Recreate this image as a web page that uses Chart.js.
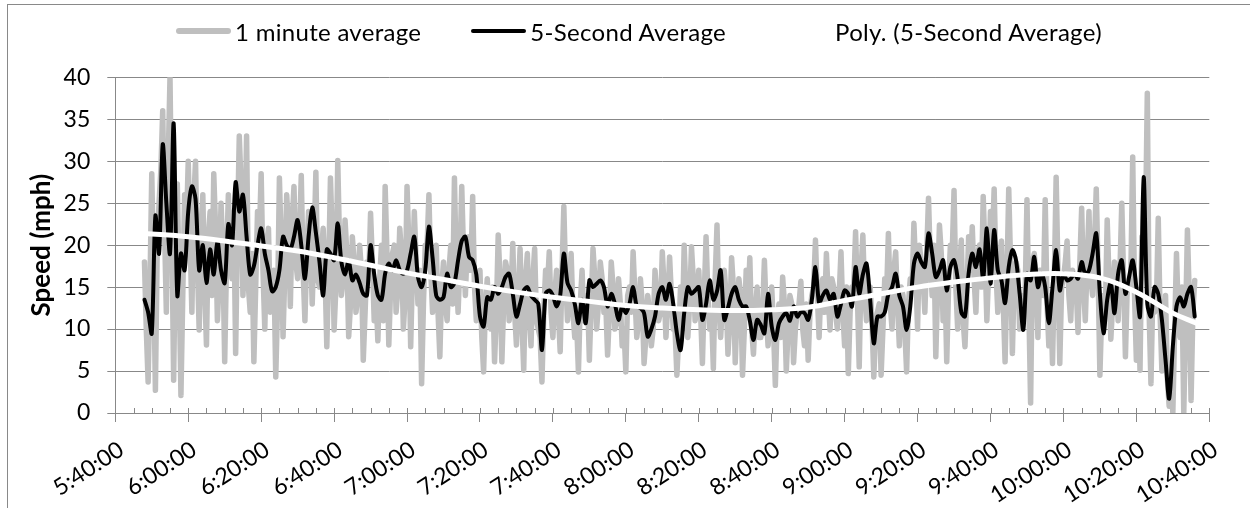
<!DOCTYPE html>
<html>
<head>
<meta charset="utf-8">
<title>Speed</title>
<script src="https://cdn.jsdelivr.net/npm/chart.js@4.4.1/dist/chart.umd.min.js"></script>
<style>
  html, body { margin: 0; padding: 0; background: #fff; overflow: hidden; }
  #wrap { position: relative; width: 1250px; height: 508px; overflow: hidden; }
  #frame { position: absolute; left: 7px; top: 4px; width: 1400px; height: 700px; border: 1px solid #898989; }
  #speedChart { position: absolute; left: 0; top: 0; }
  #legend { position: absolute; left: 176px; top: 17px; height: 28px; display: flex; align-items: center;
            font: 24px Lato, sans-serif; letter-spacing: 0.3px; color: #000; white-space: nowrap; }
  #legend .item { display: flex; align-items: center; margin-right: 50px; }
  #legend .swatch { width: 55px; margin-right: 4px; border-radius: 3px; }
</style>
</head>
<body>
<div id="wrap">
  <div id="frame"></div>
  <canvas id="speedChart" width="1250" height="508"></canvas>
  <div id="legend"></div>
</div>
<script>
// minutes after midnight; both series start at 5:48
const seriesStart = 348;

const timeTicks = ['5:40:00', '6:00:00', '6:20:00', '6:40:00', '7:00:00', '7:20:00', '7:40:00', '8:00:00',
  '8:20:00', '8:40:00', '9:00:00', '9:20:00', '9:40:00', '10:00:00', '10:20:00', '10:40:00'];

// grey series, readings on each whole minute
const oneMinuteAvg = [
  18, 3.7, 28.5, 2.7, 25, 36, 12, 40, 3.9, 27.3,
  2.1, 26, 30, 12, 30, 9.9, 26, 8.1, 24, 28.5,
  11, 25, 6.1, 26, 16, 7.1, 33, 14, 33, 12,
  6.1, 24, 28.5, 10, 22, 13, 4.3, 28, 9.1, 26,
  12.7, 27, 16, 28.3, 11, 24, 13, 28.7, 15, 22,
  7.9, 28, 9.9, 30.1, 14, 23, 9.1, 21, 12, 20,
  6.3, 18, 23.8, 11, 8.6, 20, 27, 8.1, 19, 12,
  22, 10, 27, 7.9, 24, 13, 3.5, 20, 26, 12,
  20, 6.7, 18, 11, 20, 28, 12, 27, 14, 21,
  25.8, 11, 17, 4.9, 16, 10, 6.1, 21.2, 6.1, 18,
  11, 20.2, 8.1, 19.6, 5.1, 19, 8, 19.6, 10, 3.7,
  17, 19.2, 9, 17, 7.3, 24.6, 11, 19, 9, 4.9,
  17, 12, 6.3, 19.6, 10, 18, 12, 6.9, 18, 10,
  16, 8, 4.9, 15, 19.2, 9, 16, 5.9, 14, 8,
  17, 11, 19.2, 9, 18.6, 10, 4.5, 15, 20, 9,
  19.8, 11, 17, 5.9, 21, 10, 5.3, 22.4, 9, 17,
  7, 18.5, 6, 16, 4.5, 17, 18.5, 7, 15, 9,
  18.2, 8, 15, 3.3, 13, 16.2, 5, 14, 6, 12,
  15.7, 8, 6.3, 14, 20.6, 9, 16, 19, 9.9, 15,
  10, 19.2, 8, 4.7, 15, 21.6, 5.5, 21.2, 11, 15,
  4.3, 12, 4.5, 16, 21.4, 10, 19.2, 8, 14, 4.9,
  16, 22.6, 10, 18, 12, 25.6, 14, 6.7, 22.4, 11,
  6.1, 20, 26.5, 10, 20.6, 7.9, 21, 22.2, 12, 20,
  25.8, 11, 24, 26.7, 12, 20.5, 6.1, 26.7, 7.1, 18,
  10, 14, 25.4, 1.2, 19, 9, 17, 25.4, 8, 5.9,
  28.1, 5.9, 16, 20.5, 11, 16, 9.6, 24.4, 11, 24,
  14, 26.7, 4.5, 14, 23, 8.8, 18, 11, 25, 6.7,
  15, 30.5, 6.3, 5.1, 18, 38.1, 3.5, 12, 23.2, 5,
  14, 0.8, 0, 19, 9, 0, 21.8, 1.5, 15.8
];

// grey series, readings on each half minute (5:48:30 onwards)
const oneMinuteAvgHalf = [
  10, 15, 17, 20, 29, 22, 30, 22, 20, 16,
  14, 22, 21, 25, 18, 21, 15, 21, 14, 22,
  16, 19, 18, 19, 24, 22, 27, 20, 15, 19,
  15, 21, 17, 20, 12, 17, 13, 20, 17, 22,
  23, 18, 21, 17, 19, 20, 20, 16, 19, 17,
  17, 21, 15, 20, 16, 19, 13, 18, 14, 17,
  12, 16, 18, 14, 16, 11, 19, 15, 20, 15,
  19, 14, 20, 17, 18, 17, 13, 20, 17, 16,
  12, 15, 13, 17, 13, 17, 18, 19, 20, 17,
  15, 14, 9, 13, 11, 15, 12, 16, 13, 17,
  14, 12, 14, 11, 16, 12, 16, 11, 9, 12,
  15, 12, 14, 12, 17, 16, 15, 12, 11, 13,
  11, 14, 13, 16, 13, 16, 13, 12, 15, 11,
  13, 10, 14, 12, 14, 11, 13, 9, 12, 10,
  14, 12, 15, 13, 14, 10, 9, 10, 14, 13,
  16, 13, 12, 14, 14, 12, 16, 13, 13, 14,
  11, 15, 12, 14, 10, 13, 10, 12, 9, 12,
  12, 11, 10, 11, 9, 13, 10, 13, 10, 13,
  10, 13, 12, 15, 14, 15, 12, 14, 16, 12,
  14, 12, 15, 12, 15, 14, 17, 14, 15, 11,
  10, 13, 10, 14, 13, 17, 13, 15, 10, 13,
  15, 17, 20, 16, 19, 18, 20, 15, 19, 16,
  15, 19, 15, 17, 11, 14, 17, 16, 19, 15,
  19, 17, 20, 17, 18, 13, 16, 18, 16, 17,
  12, 14, 13, 18, 16, 17, 14, 13, 14, 16,
  17, 15, 18, 14, 17, 15, 18, 15, 18, 16,
  20, 17, 12, 12, 16, 13, 15, 17, 16, 15,
  17, 14, 14, 21, 22, 12, 14, 13, 12, 9,
  4, 5, 10, 12, 15, 11, 14, 12
];

// black series, one reading per minute
const fiveSecondAvg = [
  13.5, 12, 9.5, 23.5, 19, 32, 25, 19, 34.5, 14,
  19, 17, 24, 27, 25.5, 17, 20, 15.5, 19.5, 16.5,
  20.5, 17, 15.5, 22.5, 20, 27.5, 24, 26, 21, 16.5,
  17.5, 20, 22, 19, 17, 14.5, 15, 17, 21, 20,
  19.5, 21, 23, 20, 16, 21, 24.5, 21.5, 18, 14,
  19.5, 19, 18.2, 22.6, 18, 16.5, 18.2, 15.8, 16.5, 15.5,
  14.2, 14, 20, 16.5, 14, 13.5, 16.6, 17.8, 17, 18.2,
  17, 16.6, 17, 19, 21, 16.2, 15, 17, 22.2, 18.5,
  14, 13.5, 13.8, 16.6, 15, 15.5, 18.2, 20.5, 21, 18.6,
  18.2, 16.5, 11.5, 10.3, 13.8, 13.5, 15, 14.2, 15, 16.2,
  16.6, 14.2, 11.5, 13, 14.6, 15, 14, 13.5, 13, 7.5,
  14.2, 14.6, 14, 12.7, 14, 19, 15.5, 14.6, 13, 10.7,
  13.5, 10.7, 15.8, 15, 15.4, 15.8, 15, 12.7, 14.2, 13,
  11.1, 12.7, 11.9, 13, 15, 12.7, 12.5, 11.9, 9.1, 10,
  11.5, 14.2, 15, 13.5, 15.4, 13, 9.5, 7.5, 11.9, 15,
  14.2, 14.6, 15, 11.1, 13, 15.8, 13.5, 14.5, 17, 11.1,
  12.5, 14.2, 15, 13.5, 12.7, 12.7, 11, 8.7, 11.1, 10.5,
  9.5, 14.2, 10.3, 8.7, 10.7, 11.5, 11.9, 11, 12.7, 11.5,
  12, 11.9, 11.1, 13.5, 17.4, 13.1, 14, 14.6, 13.5, 14.2,
  11.5, 13, 14.6, 14.2, 12.7, 17.4, 14.2, 16.5, 17.8, 13.5,
  8.3, 11.5, 11.5, 12, 14.2, 15, 16.6, 14, 12.7, 9.9,
  12.7, 17.8, 19, 18, 17.4, 21.4, 19, 16.2, 17, 18.2,
  14.6, 17.4, 18.2, 16, 12, 11.5, 16.6, 19, 17.4, 19.5,
  16, 22, 15.4, 21.8, 17, 15.8, 13.1, 17.4, 19.4, 18.2,
  14.2, 9.9, 16.6, 15.8, 18.6, 15, 16.6, 15, 10.7, 15,
  19.4, 14.6, 16.6, 15.8, 16, 16.6, 16, 18, 16.5, 17,
  19, 21.4, 14.2, 9.5, 13.5, 15.5, 11.9, 16.6, 18.2, 14.2,
  16.2, 18.2, 15, 11.5, 28.1, 13, 11.5, 15, 14.2, 11.1,
  6.3, 1.7, 7.9, 12.7, 13.8, 12.7, 14.2, 15, 11.5
];

// polynomial trend of the 5-second series
const trendMinutes = [348, 360, 370, 380, 390, 400, 410, 420, 430, 440, 450, 460, 470, 480, 490,
  500, 510, 520, 530, 540, 550, 560, 570, 580, 590, 600, 610, 620, 630, 636.5];
const trendValues = [21.4, 21.0, 20.5, 19.9, 19.3, 18.5, 17.6, 16.7, 15.9, 15.1, 14.4, 13.8, 13.3, 12.8, 12.5,
  12.3, 12.2, 12.3, 12.6, 13.4, 14.2, 15.0, 15.6, 16.1, 16.5, 16.6, 16.1, 14.4, 11.9, 10.7];

const axisColor = '#888888';
const labelFont = { family: 'Lato', size: 23 };

// whole-minute and half-minute grey readings woven back into time order
const greyPoints = [];
oneMinuteAvg.forEach((v, i) => {
  greyPoints.push({ x: seriesStart + i, y: v });
  if (i < oneMinuteAvgHalf.length) greyPoints.push({ x: seriesStart + i + 0.5, y: oneMinuteAvgHalf[i] });
});
const blackPoints = fiveSecondAvg.map((v, i) => ({ x: seriesStart + i, y: v }));
const trendPoints = trendMinutes.map((m, i) => ({ x: m, y: trendValues[i] }));

// small tick marks every 5 minutes sitting inside the plot on the time axis
const insideTicks = {
  id: 'insideTicks',
  beforeDatasetsDraw(chart) {
    const xs = chart.scales.x, ctx = chart.ctx, y0 = chart.chartArea.bottom;
    ctx.save();
    ctx.strokeStyle = axisColor;
    ctx.lineWidth = 1;
    ctx.beginPath();
    for (let t = xs.min + 5; t <= xs.max; t += 5) {
      const px = Math.round(xs.getPixelForValue(t)) + 0.5;
      ctx.moveTo(px, y0);
      ctx.lineTo(px, y0 - 5);
    }
    ctx.stroke();
    ctx.restore();
  }
};

// legend built as html so line swatch and spacing can be set freely
const htmlLegend = {
  id: 'htmlLegend',
  afterUpdate(chart) {
    const box = document.getElementById('legend');
    box.innerHTML = '';
    chart.data.datasets.forEach(ds => {
      const item = document.createElement('div');
      item.className = 'item';
      const sw = document.createElement('span');
      sw.className = 'swatch';
      sw.style.height = ds.borderWidth + 'px';
      sw.style.background = ds.borderColor;
      const txt = document.createElement('span');
      txt.textContent = ds.label;
      item.appendChild(sw);
      item.appendChild(txt);
      box.appendChild(item);
    });
  }
};

new Chart(document.getElementById('speedChart'), {
  type: 'line',
  data: {
    datasets: [
      {
        label: '1 minute average',
        data: greyPoints,
        borderColor: '#bfbfbf',
        borderWidth: 5.5,
        tension: 0,
        order: 3
      },
      {
        label: '5-Second Average',
        data: blackPoints,
        borderColor: '#000000',
        borderWidth: 4,
        tension: 0.3,
        order: 2
      },
      {
        label: 'Poly. (5-Second Average)',
        data: trendPoints,
        borderColor: '#ffffff',
        borderWidth: 5,
        tension: 0.4,
        order: 1
      }
    ]
  },
  options: {
    responsive: false,
    animation: false,
    devicePixelRatio: 1,
    parsing: false,
    elements: {
      point: { radius: 0 },
      line: { borderJoinStyle: 'round', borderCapStyle: 'round', fill: false }
    },
    layout: { padding: { top: 77.3, left: 0, right: 40.7, bottom: 0 } },
    plugins: {
      legend: { display: false },
      tooltip: { enabled: false }
    },
    scales: {
      x: {
        type: 'linear',
        min: 340,
        max: 640,
        ticks: {
          stepSize: 20,
          autoSkip: false,
          minRotation: 33,
          maxRotation: 33,
          labelOffset: 6,
          padding: 14,
          color: '#000',
          font: labelFont,
          callback: (v, i) => timeTicks[i]
        },
        grid: { drawOnChartArea: false, drawTicks: true, tickLength: 9, color: axisColor },
        border: { color: axisColor, width: 1 },
        afterFit(s) { s.height = 95; s.paddingLeft = 0; s.paddingRight = 0; }
      },
      y: {
        min: 0,
        max: 40,
        ticks: { stepSize: 5, padding: 17, color: '#000', font: labelFont },
        grid: { color: axisColor, tickLength: 8 },
        border: { color: axisColor, width: 1 },
        title: {
          display: true,
          text: 'Speed (mph)',
          color: '#000',
          font: { family: 'Lato', size: 26, weight: 'bold' },
          padding: { top: 26, bottom: 0 }
        },
        afterFit(s) { s.width = 115.3; s.paddingTop = 0; s.paddingBottom = 0; }
      }
    }
  },
  plugins: [insideTicks, htmlLegend]
});
</script>
</body>
</html>
